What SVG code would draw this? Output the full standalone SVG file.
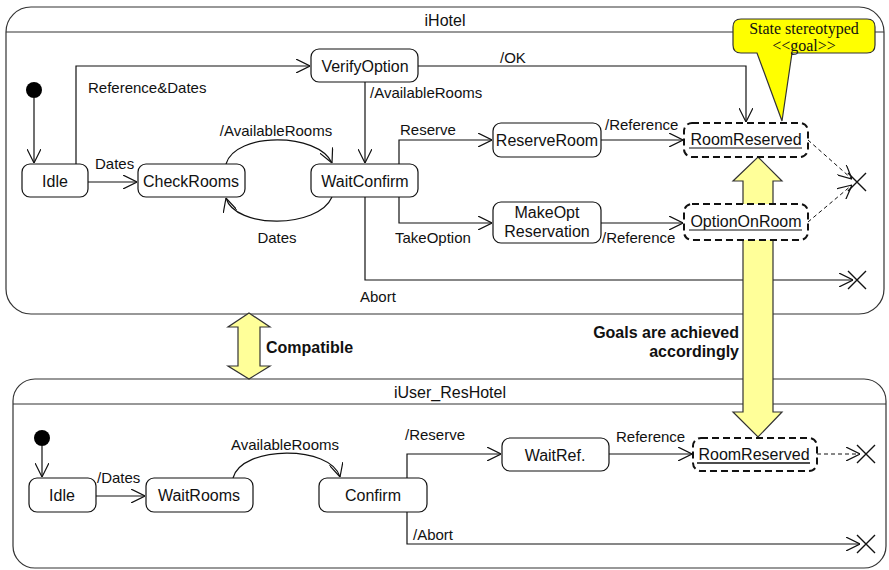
<svg xmlns="http://www.w3.org/2000/svg" width="889" height="570" viewBox="0 0 889 570">
  <style>
    .panel { fill: #fff; stroke: #333; stroke-width: 1.2; }
    .hdr { stroke: #333; stroke-width: 1.2; }
    .state { fill: #fff; stroke: #111; stroke-width: 1.2; }
    .goal { fill: #fff; stroke: #111; stroke-width: 2; stroke-dasharray: 7 4; }
    .edge { fill: none; stroke: #111; stroke-width: 1.2; marker-end: url(#open); }
    .dash { fill: none; stroke: #111; stroke-width: 1; stroke-dasharray: 4 3; marker-end: url(#open); }
    .cross { stroke: #111; stroke-width: 1.4; }
    .t { font-family: "Liberation Sans", Arial, sans-serif; font-size: 16px; fill: #111; }
    .c { text-anchor: middle; }
    .lbl { font-family: "Liberation Sans", Arial, sans-serif; font-size: 15px; fill: #111; }
    .bold { font-family: "Liberation Sans", Arial, sans-serif; font-size: 16px; font-weight: bold; fill: #111; }
    .note { font-family: "Liberation Serif", "Times New Roman", serif; font-size: 16px; fill: #111; text-anchor: middle; }
    .big { fill: #ffff99; stroke: #333; stroke-width: 1.2; }
  </style>
  <defs>
    <marker id="open" viewBox="0 0 14 14" refX="14" refY="7" markerWidth="14" markerHeight="14" markerUnits="userSpaceOnUse" orient="auto">
      <path d="M0,0 L14,7 L0,14" fill="none" stroke="#111" stroke-width="1.2"/>
    </marker>
  </defs>

  <!-- composite state: iHotel -->
  <g id="iHotel">
    <rect class="panel" x="6" y="7" width="878" height="307" rx="25"/>
    <line class="hdr" x1="6" y1="32" x2="884" y2="32"/>
    <text class="t c" x="445" y="26">iHotel</text>
  </g>

  <!-- composite state: iUser_ResHotel -->
  <g id="iUser_ResHotel">
    <rect class="panel" x="13" y="379" width="873" height="189" rx="22"/>
    <line class="hdr" x1="13" y1="404" x2="886" y2="404"/>
    <text class="t c" x="450" y="398">iUser_ResHotel</text>
  </g>

  <!-- transitions -->
  <g id="connectors">
    <!-- iHotel -->
    <path class="edge" d="M34,98 V163"/>
    <path class="edge" d="M88,182 H137"/>
    <path class="edge" d="M76,164 V66 H310"/>
    <path class="edge" d="M365,82 V163"/>
    <path class="edge" d="M226,164 C235,132 318,132 332,163"/>
    <path class="edge" d="M332,197 C318,229 235,229 226,198"/>
    <path class="edge" d="M399,164 V140 H492"/>
    <path class="edge" d="M601,140 H683"/>
    <path class="edge" d="M418,66 H746 V122"/>
    <path class="edge" d="M399,197 V223 H492"/>
    <path class="edge" d="M601,223 H683"/>
    <path class="edge" d="M365,197 V280 H853"/>
    <path class="dash" d="M808,140 L852,179"/>
    <path class="dash" d="M808,222 L852,185"/>
    <path class="cross" d="M848,173 L866,191 M866,173 L848,191"/>
    <path class="cross" d="M848,271 L866,289 M866,271 L848,289"/>

    <!-- iUser_ResHotel -->
    <path class="edge" d="M42,446 V477"/>
    <path class="edge" d="M96,496 H145"/>
    <path class="edge" d="M233,478 C242,445 331,445 340,477"/>
    <path class="edge" d="M407,478 V454 H501"/>
    <path class="edge" d="M609,454 H692"/>
    <path class="dash" d="M817,454 H860"/>
    <path class="edge" d="M407,512 V544 H860"/>
    <path class="cross" d="M857,445 L875,463 M875,445 L857,463"/>
    <path class="cross" d="M857,535 L875,553 M875,535 L857,553"/>
  </g>

  <!-- transition labels -->
  <g id="labels">
    <text class="lbl" x="95" y="169">Dates</text>
    <text class="lbl" x="88" y="93">Reference&amp;Dates</text>
    <text class="lbl" x="370" y="98">/AvailableRooms</text>
    <text class="lbl c" x="276" y="136">/AvailableRooms</text>
    <text class="lbl c" x="277" y="243">Dates</text>
    <text class="lbl" x="400" y="135">Reserve</text>
    <text class="lbl" x="605" y="130">/Reference</text>
    <text class="lbl" x="500" y="63">/OK</text>
    <text class="lbl" x="395" y="243">TakeOption</text>
    <text class="lbl" x="602" y="243">/Reference</text>
    <text class="lbl" x="360" y="302">Abort</text>

    <text class="lbl" x="97" y="483">/Dates</text>
    <text class="lbl c" x="285" y="450">AvailableRooms</text>
    <text class="lbl" x="405" y="440">/Reserve</text>
    <text class="lbl" x="616" y="442">Reference</text>
    <text class="lbl" x="413" y="540">/Abort</text>
  </g>

  <!-- initial pseudostates -->
  <g id="init-hotel"><circle cx="34" cy="90" r="8" fill="#000"/></g>
  <g id="init-user"><circle cx="42" cy="438" r="8" fill="#000"/></g>

  <!-- iHotel states -->
  <g id="hotel-idle">
    <rect class="state" x="22" y="164" width="66" height="33" rx="8"/>
    <text class="t c" x="55" y="187">Idle</text>
  </g>
  <g id="hotel-checkrooms">
    <rect class="state" x="138" y="164" width="107" height="33" rx="8"/>
    <text class="t c" x="191" y="187">CheckRooms</text>
  </g>
  <g id="hotel-verifyoption">
    <rect class="state" x="311" y="49" width="107" height="33" rx="8"/>
    <text class="t c" x="365" y="72">VerifyOption</text>
  </g>
  <g id="hotel-waitconfirm">
    <rect class="state" x="311" y="164" width="107" height="33" rx="8"/>
    <text class="t c" x="365" y="187">WaitConfirm</text>
  </g>
  <g id="hotel-reserveroom">
    <rect class="state" x="493" y="123" width="108" height="34" rx="8"/>
    <text class="t c" x="547" y="146">ReserveRoom</text>
  </g>
  <g id="hotel-makeopt">
    <rect class="state" x="493" y="202" width="108" height="41" rx="8"/>
    <text class="t c" x="547" y="218">MakeOpt</text>
    <text class="t c" x="547" y="237">Reservation</text>
  </g>

  <!-- goal correspondence arrow -->
  <g id="goals-arrow">
    <polygon class="big" points="758,157 782,181 773,181 773,412 782,412 758,437 733,412 743,412 743,181 733,181"/>
  </g>

  <g id="hotel-roomreserved">
    <rect class="goal" x="684" y="123" width="124" height="34" rx="8"/>
    <text class="t c" x="746" y="145" font-size="15.2">RoomReserved</text>
    <line x1="689" y1="148" x2="802" y2="148" stroke="#111" stroke-width="1"/>
  </g>
  <g id="hotel-optiononroom">
    <rect class="goal" x="684" y="204" width="124" height="36" rx="8"/>
    <text class="t c" x="746" y="227">OptionOnRoom</text>
    <line x1="689" y1="230" x2="802" y2="230" stroke="#111" stroke-width="1"/>
  </g>

  <!-- iUser_ResHotel states -->
  <g id="user-idle">
    <rect class="state" x="29" y="478" width="67" height="34" rx="8"/>
    <text class="t c" x="62" y="501">Idle</text>
  </g>
  <g id="user-waitrooms">
    <rect class="state" x="146" y="478" width="107" height="34" rx="8"/>
    <text class="t c" x="199" y="501">WaitRooms</text>
  </g>
  <g id="user-confirm">
    <rect class="state" x="319" y="478" width="108" height="34" rx="8"/>
    <text class="t c" x="373" y="501">Confirm</text>
  </g>
  <g id="user-waitref">
    <rect class="state" x="502" y="438" width="107" height="33" rx="8"/>
    <text class="t c" x="555" y="461">WaitRef.</text>
  </g>
  <g id="user-roomreserved">
    <rect class="goal" x="693" y="438" width="124" height="33" rx="8"/>
    <text class="t c" x="754" y="460" font-size="15.2">RoomReserved</text>
    <line x1="697" y1="463" x2="810" y2="463" stroke="#111" stroke-width="1.4"/>
  </g>

  <!-- compatibility arrow -->
  <g id="compatible-arrow">
    <polygon class="big" points="249,313 270,327 260,327 260,366 270,366 249,379 228,366 238,366 238,327 228,327"/>
    <text class="bold" x="266" y="353">Compatible</text>
  </g>

  <g id="goals-label">
    <text class="bold" x="739" y="338" text-anchor="end">Goals are achieved</text>
    <text class="bold" x="739" y="357" text-anchor="end">accordingly</text>
  </g>

  <!-- goal stereotype note -->
  <g id="goal-note">
    <path d="M741,19 H867 Q875,19 875,27 V45 Q875,53 867,53 H792 L782,121 L757,53 H741 Q733,53 733,45 V27 Q733,19 741,19 Z" fill="#ffff00" stroke="#333" stroke-width="1.2"/>
    <text class="note" x="804" y="34">State stereotyped</text>
    <text class="note" x="804" y="51">&lt;&lt;goal&gt;&gt;</text>
  </g>
</svg>
